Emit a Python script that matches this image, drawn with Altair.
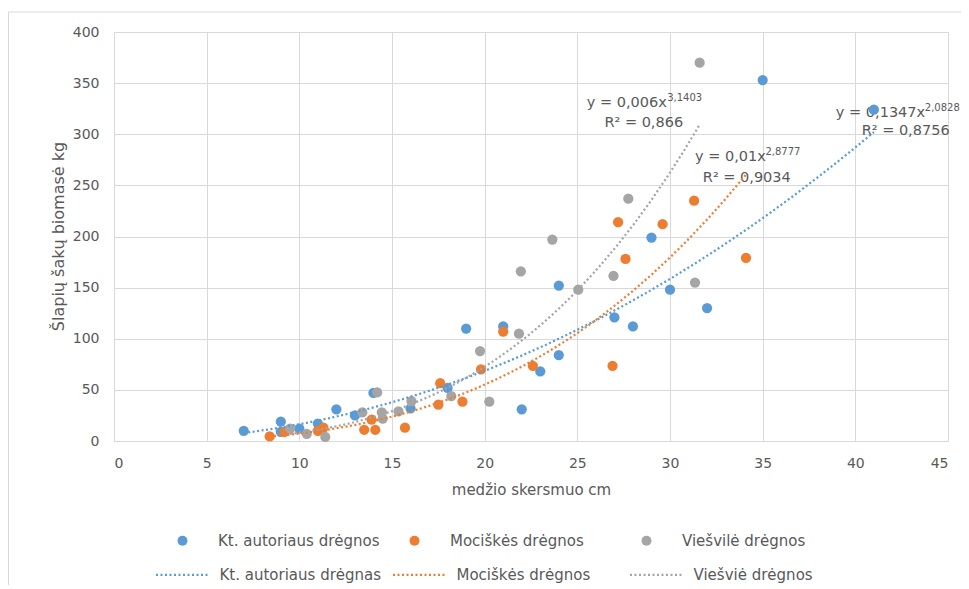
import altair as alt
import pandas as pd

# ---- data ----
series_names = ["Kt. autoriaus drėgnos", "Mociškės drėgnos", "Viešvilė drėgnos"]
trend_names = ["Kt. autoriaus drėgnas", "Mociškės drėgnos ", "Viešviė drėgnos"]
colors = ["#5B9BD5", "#ED7D31", "#A5A5A5"]

blue_x = [7, 9, 9, 10, 11, 12, 13, 14, 16, 18, 19, 21, 22, 23, 24, 24, 27, 28, 29, 30, 32, 35, 41]
blue_y = [10, 19, 9, 12, 17, 31, 25, 47, 32, 52, 110, 112, 31, 68, 84, 152, 121, 112, 199, 148, 130, 353, 324]

orange_x = [8.4, 9.2, 11.0, 11.3, 13.5, 13.9, 14.1, 15.7, 17.5, 17.6, 18.8, 19.8, 21.0, 22.6, 26.9, 27.2, 27.6, 29.6, 31.3, 34.1]
orange_y = [4.5, 9, 10, 13, 11, 21, 11, 13, 35.5, 56.5, 38.5, 70, 107, 73.5, 73.5, 214, 178, 212, 235, 179]

gray_x = [9.5, 10.4, 11.4, 13.4, 14.2, 14.45, 14.5, 15.35, 16.05, 18.2, 19.75, 20.25, 21.85, 21.95, 23.65, 25.05, 26.95, 27.75, 31.35, 31.6]
gray_y = [12, 7, 4, 28, 47.5, 28, 22, 29, 39, 44, 88, 38.5, 105, 166, 197, 148, 161.5, 237, 155, 370]

x_ticks = [0, 5, 10, 15, 20, 25, 30, 35, 40, 45]
y_ticks = [0, 50, 100, 150, 200, 250, 300, 350, 400]

# trendline labels (text, anchor in data units)
eq_text = ["y = 0,006x", "y = 0,01x", "y = 0,1347x"]
eq_x = [25.51, 31.35, 38.95]
eq_y = [330.5, 277.7, 320.7]
exp_text = ["3,1403", "2,8777", "2,0828"]
exp_x = [29.85, 35.15, 43.75]
exp_y = [335.8, 282.2, 325.8]
r2_text = ["R² = 0,866", "R² = 0,9034", "R² = 0,8756"]
r2_x = [26.46, 31.77, 40.34]
r2_y = [310.9, 257.1, 302.7]

# ---- tables ----
rows = []
for name, tname, xs, ys in zip(series_names, trend_names,
                               [blue_x, orange_x, gray_x], [blue_y, orange_y, gray_y]):
    for xv, yv in zip(xs, ys):
        rows.append({"x": xv, "y": yv, "series": name, "trend": tname})
df = pd.DataFrame(rows)

ann_main = pd.DataFrame({"x": eq_x + r2_x, "y": eq_y + r2_y, "t": eq_text + r2_text})
ann_sup = pd.DataFrame({"x": exp_x, "y": exp_y, "t": exp_text})

FONT = "DejaVu Sans"
TXT = "#595959"
GRID = "#d9d9d9"

xenc = alt.X("x:Q", scale=alt.Scale(domain=[0, 45], nice=False),
             axis=alt.Axis(values=x_ticks, title="medžio skersmuo cm", format="d"))
yenc = alt.Y("y:Q", scale=alt.Scale(domain=[0, 400], nice=False),
             axis=alt.Axis(values=y_ticks, title="Šlapių šakų biomasė kg", format="d",
                           titleX=-56, titleY=204, titleBaseline="middle",
                           titleFontSize=16))

frame = alt.Chart(alt.Data(values=[{"a": 1}])).mark_rule(color=GRID, strokeWidth=1)
frame_left = frame.encode(x=alt.value(-105.5), y=alt.value(-20), y2=alt.value(600))
frame_top = frame.encode(y=alt.value(-20), x=alt.value(-105.5), x2=alt.value(900))

points = alt.Chart(df).mark_circle(size=105, opacity=1).encode(
    x=xenc, y=yenc,
    fill=alt.Fill("series:N",
                  scale=alt.Scale(domain=series_names, range=colors),
                  legend=alt.Legend(orient="none", legendX=61, legendY=501,
                                    direction="horizontal", columns=3, title=None,
                                    symbolType="circle", symbolSize=100,
                                    symbolStrokeWidth=0, labelOffset=28,
                                    columnPadding=27, gridAlign="all", padding=0,
                                    labelLimit=400,
                                    labelFont=FONT, labelFontSize=15, labelColor=TXT)),
)

lines = alt.Chart(df).transform_regression(
    "x", "y", method="pow", groupby=["trend"]
).mark_line(strokeDash=[2, 2.5], strokeWidth=2.25).encode(
    x="x:Q", y="y:Q",
    stroke=alt.Stroke("trend:N",
                      scale=alt.Scale(domain=trend_names, range=colors),
                      legend=alt.Legend(orient="none", legendX=40.5, legendY=515,
                                        direction="horizontal", columns=3, title=None,
                                        symbolType="stroke", symbolSize=2704,
                                        symbolStrokeWidth=2.25, symbolDash=[2, 2.5],
                                        labelOffset=10, columnPadding=7, gridAlign="all",
                                        padding=0, labelLimit=400,
                                        labelFont=FONT, labelFontSize=15,
                                        labelColor=TXT)),
)

t_main = alt.Chart(ann_main).mark_text(
    align="left", baseline="middle", font=FONT, fontSize=14.5, color=TXT
).encode(x="x:Q", y="y:Q", text="t:N")
t_sup = alt.Chart(ann_sup).mark_text(
    align="left", baseline="middle", font=FONT, fontSize=10, color=TXT
).encode(x="x:Q", y="y:Q", text="t:N")

chart = alt.layer(frame_left, frame_top, t_main, t_sup, points, lines).properties(
    width=834, height=409,
    autosize=alt.AutoSizeParams(type="none"),
    padding={"left": 106, "top": 24, "right": 13, "bottom": 144},
    background="white",
).resolve_scale(fill="independent", stroke="independent").configure_view(
    stroke=None
).configure_axis(
    gridColor=GRID, domainColor=GRID, ticks=False, tickSize=0,
    labelFont=FONT, labelFontSize=14, labelColor=TXT, labelPadding=15,
    titleFont=FONT, titleFontSize=15, titleFontWeight="normal", titleColor=TXT,
).configure_axisX(titlePadding=12)

chart.save("out.html", embed_options={"renderer": "svg", "actions": False})
